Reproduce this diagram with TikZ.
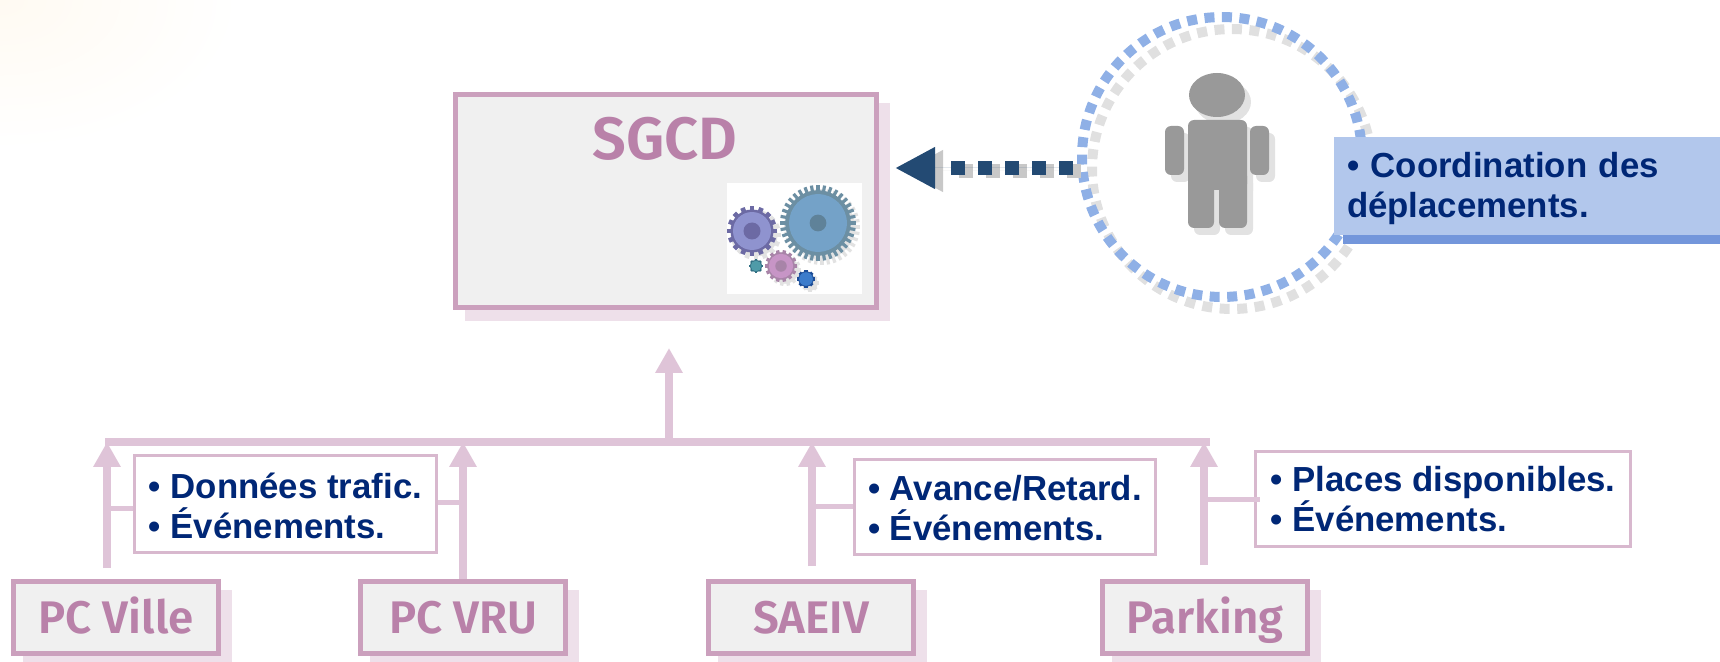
\documentclass[tikz,border=0pt]{standalone}
\usepackage{fontspec}
\setmainfont{Liberation Sans}
\newfontfamily\sysfont{Fira Sans SemiBold}
\usetikzlibrary{arrows.meta,shadows}
\definecolor{sysborder}{HTML}{CBA0BD}
\definecolor{sysfill}{HTML}{F0F0F0}
\definecolor{sysshadow}{HTML}{EEE0EA}
\definecolor{systext}{HTML}{B981A9}
\definecolor{busline}{HTML}{DFC4D8}
\definecolor{infoborder}{HTML}{D8B8CE}
\definecolor{infotext}{HTML}{002776}
\definecolor{tagfill}{HTML}{B2C7EC}
\definecolor{tagstrip}{HTML}{7396DB}
\definecolor{ringblue}{HTML}{8FB0E6}
\definecolor{ringgrey}{HTML}{E0E0E0}
\definecolor{usergrey}{HTML}{999999}
\definecolor{usershadow}{HTML}{E2E2E2}
\definecolor{querydark}{HTML}{234A73}
\definecolor{querygrey}{HTML}{C8C8C8}
\definecolor{glow}{HTML}{FFFAF2}
\definecolor{bigrim}{HTML}{6C8FA3}
\definecolor{bigface}{HTML}{74A2C8}
\definecolor{bighub}{HTML}{5F8299}
\definecolor{purplerim}{HTML}{6C6AA4}
\definecolor{purpleface}{HTML}{8F93CF}
\definecolor{pinkrim}{HTML}{A884A8}
\definecolor{pinkface}{HTML}{C795C6}
\definecolor{tealrim}{HTML}{2F6E82}
\definecolor{tealface}{HTML}{4F9BA8}
\definecolor{bluerim}{HTML}{1C4C96}
\definecolor{blueface}{HTML}{3C7CCB}
\newcommand{\gearwheel}[8]{
	\pgfmathsetmacro\toothstep{360/#4}
	\pgfmathsetmacro\toothhalf{#3*1.5/#4}
	\begin{scope}[shift={(#1,#2)}]
		\foreach \a in {0,\toothstep,...,359.9}
			\fill[#5,rotate=\a] (#3*.8,-\toothhalf) rectangle (#3,\toothhalf);
		\fill[#5] (0,0) circle (#3*.86);
		\fill[#6] (0,0) circle (#3*.76);
		\fill[#7] (0,0) circle (#3*#8);
	\end{scope}
}
\begin{document}
\begin{tikzpicture}[x=.02cm,y=-.02cm]
	\tikzstyle{sysbox}=[draw=sysborder,fill=sysfill,line width=.1cm,text=systext,minimum width=4.1cm,minimum height=1.44cm,inner sep=0pt,text height=.82cm,text depth=.2cm,font=\sysfont\fontsize{26}{30}\selectfont,drop shadow={shadow xshift=.23cm,shadow yshift=-.22cm,opacity=1,fill=sysshadow,draw=sysshadow}]
	\tikzstyle{infobox}=[draw=infoborder,fill=white,line width=.06cm,text=infotext,align=left,inner sep=0pt,font=\bfseries\fontsize{19.8}{22.7}\selectfont]
	\tikzstyle{ring}=[circle,minimum size=5.6cm,inner sep=0pt,line width=.2cm,dash pattern=on .2cm off .15cm]
	\tikzstyle{bus}=[draw=busline,line width=.17cm]
	\tikzstyle{feed}=[bus,-{Triangle[length=.5cm,width=.52cm]}]
	\tikzstyle{link}=[draw=busline,line width=.1cm]
	\tikzstyle{query}=[line width=.28cm,dash pattern=on .28cm off .26cm on .28cm off .26cm on .28cm off .26cm on .28cm off .26cm on .28cm off 2cm,-{Triangle[length=.8cm,width=.78cm]}]

	\begin{scope}
		\clip (0,0) rectangle (260,170);
		\shade[inner color=glow,outer color=white] (0,0) ellipse (240 and 150);
	\end{scope}

	\node[sysbox,minimum width=8.42cm,minimum height=4.26cm] (SGCD) at (666,201) {};
	\node[text=systext,inner sep=0pt,font=\sysfont\fontsize{34}{40}\selectfont] (SGCDtitle) at (665,139) {SGCD};
	\node[fill=white,minimum width=2.7cm,minimum height=2.22cm,inner sep=0pt] (gears) at (794.5,238.5) {};
	\gearwheel{822}{227}{38}{36}{usershadow}{usershadow}{usershadow}{.2}
	\gearwheel{756}{235}{25}{16}{usershadow}{usershadow}{usershadow}{.2}
	\gearwheel{785}{270}{16}{14}{usershadow}{usershadow}{usershadow}{.2}
	\gearwheel{810}{283}{9}{8}{usershadow}{usershadow}{usershadow}{.2}
	\gearwheel{818}{223}{38}{36}{bigrim}{bigface}{bighub}{.22}
	\gearwheel{752}{231}{25}{16}{purplerim}{purpleface}{purplerim}{.34}
	\gearwheel{781}{266}{16}{14}{pinkrim}{pinkface}{pinkrim}{.36}
	\gearwheel{756}{266}{7}{8}{tealrim}{tealface}{tealface}{.3}
	\gearwheel{806}{279}{9}{8}{bluerim}{blueface}{blueface}{.3}

	\begin{scope}[shift={(6,7)}]
		\fill[usershadow] (1217,95) ellipse (28 and 22);
		\fill[usershadow,rounded corners=.12cm] (1165,126) rectangle (1184,175);
		\fill[usershadow,rounded corners=.12cm] (1250,126) rectangle (1269,175);
		\fill[usershadow,rounded corners=.12cm] (1188,120) rectangle (1247,190);
		\fill[usershadow,rounded corners=.12cm] (1188,170) rectangle (1214,228);
		\fill[usershadow,rounded corners=.12cm] (1219,170) rectangle (1247,228);
	\end{scope}
	\fill[usergrey] (1217,95) ellipse (28 and 22);
	\fill[usergrey,rounded corners=.12cm] (1165,126) rectangle (1184,175);
	\fill[usergrey,rounded corners=.12cm] (1250,126) rectangle (1269,175);
	\fill[usergrey,rounded corners=.12cm] (1188,120) rectangle (1247,190);
	\fill[usergrey,rounded corners=.12cm] (1188,170) rectangle (1214,228);
	\fill[usergrey,rounded corners=.12cm] (1219,170) rectangle (1247,228);

	\node[ring,draw=ringgrey] (ringback) at (1232,169) {};
	\node[ring,draw=ringblue] (ringfront) at (1222,157) {};

	\coordinate (userout) at (1073,168);
	\coordinate (sgcdin) at (895,168);
	\draw[query,draw=querygrey,fill=querygrey] ([shift={(8,3)}]userout) -- ([shift={(8,3)}]sgcdin);
	\draw[query,draw=querydark,fill=querydark] (userout) -- (sgcdin);

	\node[fill=tagstrip,minimum width=7.54cm,minimum height=.2cm,inner sep=0pt] (tagstrip) at (1531.5,239.5) {};
	\node[fill=tagfill,text=infotext,text width=7.2cm,minimum height=1.96cm,inner xsep=.26cm,inner ysep=0pt,align=left,font=\bfseries\fontsize{19.8}{22.7}\selectfont] (tag) at (1527,186) {\rule{0pt}{.6cm}• Coordination des\\déplacements.};

	\node[sysbox] (PCVille) at (116,617.5) {PC Ville};
	\node[sysbox] (PCVRU) at (463,617.5) {PC VRU};
	\node[sysbox] (SAEIV) at (811,617.5) {SAEIV};
	\node[sysbox] (Parking) at (1205,617.5) {Parking};

	\node[infobox,minimum width=6.04cm,minimum height=1.94cm] (infoVille) at (285.5,504) {\rule{0pt}{.58cm}• Données trafic.\\• Événements.};
	\node[infobox,minimum width=6.02cm,minimum height=1.92cm] (infoSAEIV) at (1005,507) {\rule{0pt}{.56cm}• Avance/Retard.\\• Événements.};
	\node[infobox,minimum width=7.5cm,minimum height=1.92cm] (infoParking) at (1443,499) {• Places disponibles.\\• Événements.};

	\coordinate (busw) at (105,442);
	\coordinate (buse) at (1210,442);
	\coordinate (busup) at (669,442);
	\coordinate (sgcdfoot) at (669,348);
	\coordinate (villeout) at (107,568);
	\coordinate (saeivout) at (812,566);
	\coordinate (parkingout) at (1204,565);

	\draw[link] (infoVille.west) ++(0,4) -- ++(-26,0);
	\draw[link] (infoVille.east) ++(0,-2) -- ++(24,0);
	\draw[link] (infoSAEIV.west) ++(0,-1) -- ++(-41,0);
	\draw[link,shorten >=-.12cm] (infoParking.west -| parkingout) -- ++(50,0);

	\draw[bus] (busw) -- (buse);
	\draw[feed] (busup) -- (sgcdfoot);
	\draw[feed] (villeout) -- (villeout |- busw);
	\draw[feed] (PCVRU.north) -- (PCVRU.north |- busw);
	\draw[feed] (saeivout) -- (saeivout |- busw);
	\draw[feed] (parkingout) -- (parkingout |- busw);

	\pgfresetboundingbox
	\useasboundingbox (0,0) rectangle (1720,662);
\end{tikzpicture}
\end{document}
